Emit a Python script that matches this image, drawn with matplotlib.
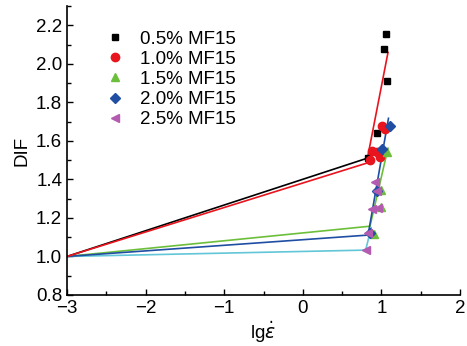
import numpy as np
import matplotlib
matplotlib.use('Agg')
import matplotlib.pyplot as plt
from matplotlib.ticker import MultipleLocator

plt.rcParams['font.family'] = ['Liberation Sans', 'DejaVu Sans']
plt.rcParams['mathtext.fontset'] = 'dejavusans'

# measured points, one series per MF15 dosage
labels = ['0.5% MF15', '1.0% MF15', '1.5% MF15', '2.0% MF15', '2.5% MF15']

x05 = [0.83, 0.94, 1.03, 1.06, 1.07]
y05 = [1.51, 1.64, 2.075, 2.157, 1.909]

x10 = [0.855, 0.88, 0.944, 0.98, 1.008, 1.046]
y10 = [1.499, 1.546, 1.541, 1.515, 1.676, 1.660]

x15 = [0.906, 0.995, 1.00, 1.07]
y15 = [1.116, 1.256, 1.344, 1.541]

x20 = [0.855, 0.944, 1.008, 1.11]
y20 = [1.121, 1.339, 1.556, 1.676]

x25 = [0.804, 0.83, 0.88, 0.957, 0.918, 0.944]
y25 = [1.033, 1.121, 1.246, 1.251, 1.385, 1.339]

# fitted lines (start at lg = -3, DIF = 1)
fit05_x = [-3, 0.82]
fit05_y = [1.0, 1.51]
fit10_x = [-3, 0.81, 1.084]
fit10_y = [1.0, 1.484, 2.059]
fit15_x = [-3, 0.855, 1.084]
fit15_y = [1.0, 1.157, 1.562]
fit20_x = [-3, 0.83, 1.09]
fit20_y = [1.0, 1.111, 1.717]
fit25_x = [-3, 0.80, 0.87]
fit25_y = [1.0, 1.033, 1.15]

black = '#000000'
red = '#e8141e'
green = '#6cbf3a'
blue = '#1f4ea3'
purple = '#b35bb0'
cyan = '#62c6d8'

fig = plt.figure(figsize=(4.67, 3.46), dpi=100)
ax = fig.add_axes([0.1435, 0.1474, 0.8415, 0.8353])

lw = 1.2
ax.plot(fit05_x, fit05_y, color=black, lw=lw)
ax.plot(fit25_x, fit25_y, color=cyan, lw=lw)
ax.plot(fit15_x, fit15_y, color=green, lw=lw)
ax.plot(fit20_x, fit20_y, color=blue, lw=lw)
ax.plot(fit10_x, fit10_y, color=red, lw=lw)

ax.plot(x05, y05, 's', color=black, ms=5, ls='none', label=labels[0])
ax.plot(x10, y10, 'o', color=red, ms=6, ls='none', label=labels[1])
ax.plot(x15, y15, '^', color=green, ms=6, ls='none', label=labels[2])
ax.plot(x20, y20, 'D', color=blue, ms=5, ls='none', label=labels[3])
ax.plot(x25, y25, '<', color=purple, ms=6, ls='none', label=labels[4])

ax.set_xlim(-3, 2)
ax.set_ylim(0.8, 2.3)
ax.set_xticks([-3, -2, -1, 0, 1, 2])
ax.set_yticks(np.round(np.arange(0.8, 2.21, 0.2), 1))
ax.xaxis.set_minor_locator(MultipleLocator(0.5))
ax.yaxis.set_minor_locator(MultipleLocator(0.1))
ax.set_xticklabels(['\u22123', '\u22122', '\u22121', '0', '1', '2'])
ax.set_yticklabels(['%.1f' % v for v in np.arange(0.8, 2.21, 0.2)])
ax.tick_params(which='both', direction='in', labelsize=13.5, width=1)
ax.tick_params(which='major', length=4)
ax.tick_params(which='minor', length=3)

for s in ['top', 'right']:
    ax.spines[s].set_visible(False)
for s in ['left', 'bottom']:
    ax.spines[s].set_linewidth(1.2)

ax.set_xlabel(r'lg$\dot{\varepsilon}$', fontsize=13.5, labelpad=2)
ax.set_ylabel('DIF', fontsize=13.5, labelpad=4)

ax.legend(loc='upper left', bbox_to_anchor=(0.065, 0.96), frameon=False,
          fontsize=13.5, handletextpad=0.85, labelspacing=0.16,
          handlelength=1.0, borderaxespad=0.3)

fig.savefig('out.png', dpi=100)
